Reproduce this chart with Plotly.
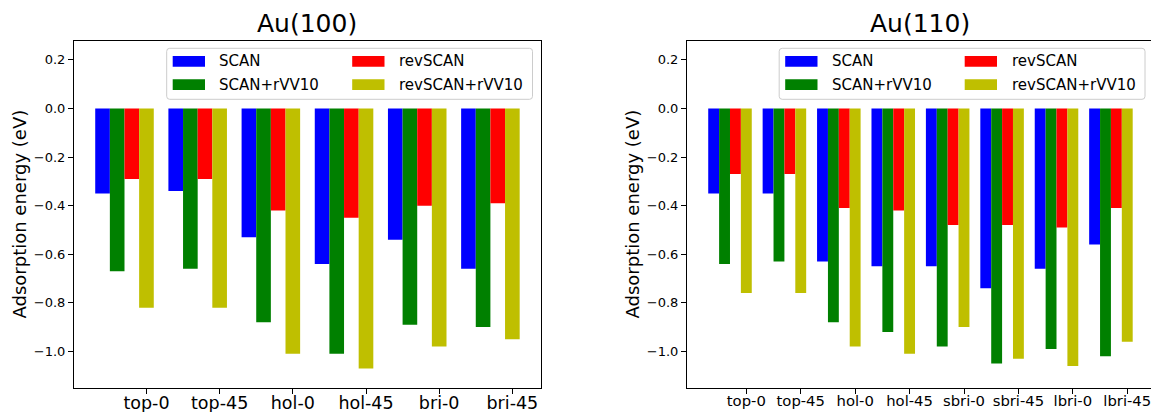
import plotly.graph_objects as go

W, H = 1151, 412

# ---------------- data ----------------
sites_100 = ["top-0", "top-45", "hol-0", "hol-45", "bri-0", "bri-45"]
scan_100 = [-0.35, -0.34, -0.53, -0.64, -0.54, -0.66]
scan_rvv10_100 = [-0.67, -0.66, -0.88, -1.01, -0.89, -0.90]
revscan_100 = [-0.29, -0.29, -0.42, -0.45, -0.40, -0.39]
revscan_rvv10_100 = [-0.82, -0.82, -1.01, -1.07, -0.98, -0.95]

sites_110 = ["top-0", "top-45", "hol-0", "hol-45", "sbri-0", "sbri-45", "lbri-0", "lbri-45"]
scan_110 = [-0.35, -0.35, -0.63, -0.65, -0.65, -0.74, -0.66, -0.56]
scan_rvv10_110 = [-0.64, -0.63, -0.88, -0.92, -0.98, -1.05, -0.99, -1.02]
revscan_110 = [-0.27, -0.27, -0.41, -0.42, -0.48, -0.48, -0.49, -0.41]
revscan_rvv10_110 = [-0.76, -0.76, -0.98, -1.01, -0.90, -1.03, -1.06, -0.96]

series_names = ["SCAN", "SCAN+rVV10", "revSCAN", "revSCAN+rVV10"]
series_colors = ["#0000ff", "#008000", "#ff0000", "#bfbf00"]

y_tick_vals = [0.2, 0.0, -0.2, -0.4, -0.6, -0.8, -1.0]
y_tick_text = ["0.2", "0.0", "\u22120.2", "\u22120.4", "\u22120.6", "\u22120.8", "\u22121.0"]

titles = ["Au(100)", "Au(110)"]
y_title = "Adsorption energy (eV)"

# ---------------- layout helpers ----------------
FONT = "DejaVu Sans"
bar_w = 0.2


def fx(p):
    return p / W


def fy(p):
    return 1 - p / H


fig = go.Figure()

panels = [
    dict(xa="x", ya="y", sites=sites_100,
         data=[scan_100, scan_rvv10_100, revscan_100, revscan_rvv10_100]),
    dict(xa="x2", ya="y2", sites=sites_110,
         data=[scan_110, scan_rvv10_110, revscan_110, revscan_rvv10_110]),
]

for p in panels:
    idx = list(range(len(p["sites"])))
    for k, (name, color, vals) in enumerate(zip(series_names, series_colors, p["data"])):
        fig.add_trace(go.Bar(
            x=idx, y=vals, width=bar_w, offset=k * bar_w - bar_w / 2,
            marker=dict(color=color, line=dict(width=0)),
            name=name, showlegend=False, xaxis=p["xa"], yaxis=p["ya"],
        ))

ax_top, ax_bot = 40.7, 388.3
y_dom = [fy(ax_bot), fy(ax_top)]
y_rng = [-1.152, 0.279]

common_x = dict(ticks="outside", ticklen=5, tickwidth=1, tickcolor="black",
                showline=True, linecolor="black", linewidth=1,
                showgrid=False, zeroline=False, automargin=False,
                ticklabeloverflow="allow", ticklabelstandoff=-6)
common_y = dict(ticks="outside", ticklen=5, tickwidth=1, tickcolor="black",
                showline=True, linecolor="black", linewidth=1,
                showgrid=False, zeroline=False, range=y_rng, automargin=False,
                tickvals=y_tick_vals, ticktext=y_tick_text,
                tickfont=dict(family=FONT, size=13, color="black"))

L0, L1 = 74.0, 540.9
R0 = 687.0
R_scale = 54.42

fig.update_layout(
    width=W, height=H, margin=dict(l=0, r=0, t=0, b=0, autoexpand=False),
    paper_bgcolor="white", plot_bgcolor="white",
    font=dict(family=FONT, color="black"),
    barmode="overlay",
    xaxis=dict(domain=[fx(L0), fx(L1)], range=[-0.39, 5.99], anchor="y", mirror=True,
               tickvals=[i + 0.6 for i in range(len(sites_100))], ticktext=sites_100,
               tickfont=dict(family=FONT, size=17.5, color="black"), **common_x),
    yaxis=dict(domain=y_dom, anchor="x", mirror=True, **common_y),
    xaxis2=dict(domain=[fx(R0), 1.0], range=[-0.49, -0.49 + (W - R0) / R_scale], anchor="y2",
                mirror=True,
                tickvals=[i + 0.6 for i in range(len(sites_110))], ticktext=sites_110,
                tickfont=dict(family=FONT, size=14.8, color="black"), **common_x),
    yaxis2=dict(domain=y_dom, anchor="x2", mirror=False, **common_y),
)

annotations = []
shapes = []

# titles and y titles
for title, cx, ylab_x in [(titles[0], (L0 + L1) / 2, 19), (titles[1], (R0 + R0 + (L1 - L0)) / 2, 632)]:
    annotations.append(dict(text=title, x=fx(cx), y=fy(24), xref="paper", yref="paper",
                            xanchor="center", yanchor="middle", showarrow=False,
                            font=dict(family=FONT, size=25, color="black")))
    annotations.append(dict(text=y_title, x=fx(ylab_x), y=fy((ax_top + ax_bot) / 2),
                            xref="paper", yref="paper", textangle=-90,
                            xanchor="center", yanchor="middle", showarrow=False,
                            font=dict(family=FONT, size=18, color="black")))


def rounded_rect_path(x0, y0, x1, y1, r):
    # pixel coordinates -> paper path
    pts = []
    pts.append(f"M {fx(x0 + r)},{fy(y0)}")
    pts.append(f"L {fx(x1 - r)},{fy(y0)}")
    pts.append(f"Q {fx(x1)},{fy(y0)} {fx(x1)},{fy(y0 + r)}")
    pts.append(f"L {fx(x1)},{fy(y1 - r)}")
    pts.append(f"Q {fx(x1)},{fy(y1)} {fx(x1 - r)},{fy(y1)}")
    pts.append(f"L {fx(x0 + r)},{fy(y1)}")
    pts.append(f"Q {fx(x0)},{fy(y1)} {fx(x0)},{fy(y1 - r)}")
    pts.append(f"L {fx(x0)},{fy(y0 + r)}")
    pts.append(f"Q {fx(x0)},{fy(y0)} {fx(x0 + r)},{fy(y0)}")
    pts.append("Z")
    return " ".join(pts)


legend_boxes = [166.7, 779.2]
leg_top, leg_bot = 48.3, 99.3
row_centers = [61.35, 84.65]
patch_h = 10.7
patch_w = 32.3
col_patch = [6.0, 185.5]
col_text = [50.6, 230.6]
# matplotlib ncol=2 fills column by column
layout_order = [(0, 0), (0, 1), (1, 0), (1, 1)]  # (col, row) for each series

for bx in legend_boxes:
    shapes.append(dict(type="path", xref="paper", yref="paper",
                       path=rounded_rect_path(bx, leg_top, bx + 365.8, leg_bot, 3),
                       line=dict(color="#cccccc", width=1),
                       fillcolor="rgba(255,255,255,0.8)", layer="above"))
    for (col, row), name, color in zip(layout_order, series_names, series_colors):
        cy = row_centers[row]
        shapes.append(dict(type="rect", xref="paper", yref="paper",
                           x0=fx(bx + col_patch[col]), x1=fx(bx + col_patch[col] + patch_w),
                           y0=fy(cy + patch_h / 2), y1=fy(cy - patch_h / 2),
                           line=dict(width=0), fillcolor=color, layer="above"))
        annotations.append(dict(text=name, x=fx(bx + col_text[col]), y=fy(cy),
                                xref="paper", yref="paper", xanchor="left", yanchor="middle",
                                showarrow=False,
                                font=dict(family=FONT, size=15, color="black")))

fig.update_layout(annotations=annotations, shapes=shapes)

fig.write_html("out.html")
